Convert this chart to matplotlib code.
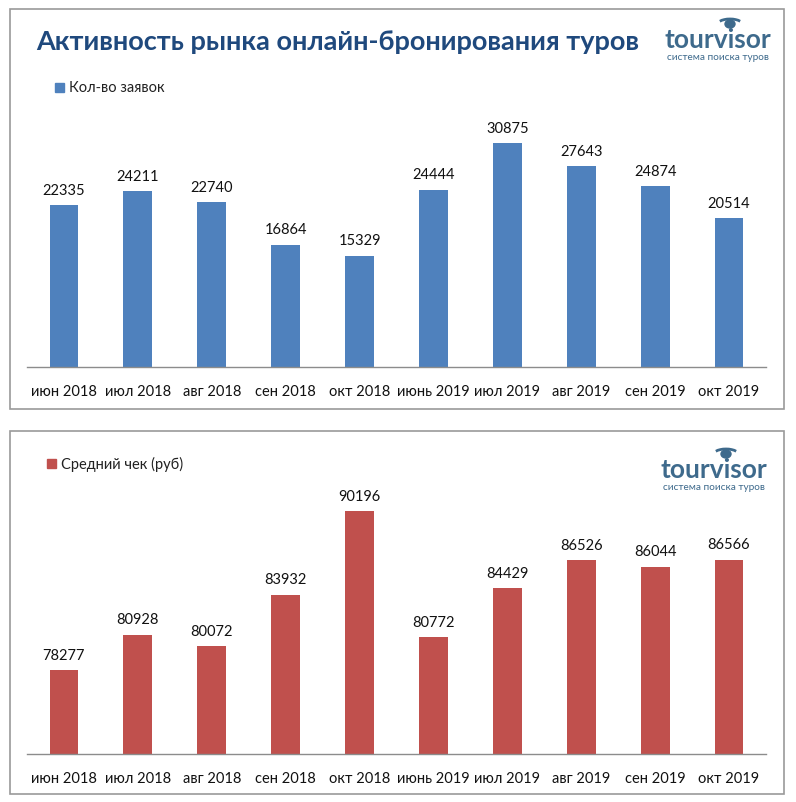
import matplotlib.pyplot as plt
from matplotlib.patches import Rectangle, Ellipse, Arc

months = ['июн 2018', 'июл 2018', 'авг 2018', 'сен 2018', 'окт 2018',
          'июнь 2019', 'июл 2019', 'авг 2019', 'сен 2019', 'окт 2019']
requests = [22335, 24211, 22740, 16864, 15329, 24444, 30875, 27643, 24874, 20514]
avg_check = [78277, 80928, 80072, 83932, 90196, 80772, 84429, 86526, 86044, 86566]

title = 'Активность рынка онлайн-бронирования туров'
legend_top = 'Кол-во заявок'
legend_bottom = 'Средний чек (руб)'

W, H = 796, 803
blue = '#4F81BD'
red = '#C0504D'
logo_col = '#3E6A8C'
plt.rcParams['font.family'] = ['Lato', 'DejaVu Sans']

fig = plt.figure(figsize=(W / 100, H / 100), dpi=100)
fig.patch.set_facecolor('white')


def px(x, y):
    # pixel coords (from top-left) -> figure fraction
    return x / W, 1 - y / H


def panel(x0, y0, x1, y1):
    fx, fy = px(x0, y1)
    fig.patches.append(Rectangle((fx, fy), (x1 - x0) / W, (y1 - y0) / H,
                                 transform=fig.transFigure, fill=False,
                                 edgecolor='#9A9A9A', linewidth=1.2))


def logo(cx, cy):
    x, y = px(cx, cy)
    fig.text(x, y, 'tourvisor', fontsize=19, fontweight='bold', color=logo_col,
             ha='center', va='center')
    x2, y2 = px(cx, cy + 18)
    fig.text(x2, y2, 'система поиска туров', fontsize=7.2, color=logo_col,
             ha='center', va='center')
    ex, ey = px(cx + 12, cy - 15)
    fig.patches.append(Ellipse((ex, ey), 10 / W, 8 / H, transform=fig.transFigure,
                               color=logo_col))
    fig.patches.append(Arc((ex, ey - 1 / H), 26 / W, 12 / H, theta1=20, theta2=160,
                           transform=fig.transFigure, color=logo_col, linewidth=2))


def legend(x, y, text, color):
    sx, sy = px(x, y)
    fig.patches.append(Rectangle((sx, sy - 5 / H), 9 / W, 9 / H,
                                 transform=fig.transFigure, color=color))
    tx, ty = px(x + 14, y)
    fig.text(tx, ty, text, fontsize=10.5, color='#222222', va='center', ha='left')


def bars(ax, values, color, ymin, ymax):
    xs = range(len(values))
    ax.bar(xs, values, width=0.39, color=color, zorder=2)
    for i, v in zip(xs, values):
        ax.annotate(str(v), (i, v), xytext=(0, 6), textcoords='offset points',
                    ha='center', va='bottom', fontsize=10.5, color='#111111')
    ax.set_xlim(-0.5, len(values) - 0.5)
    ax.set_ylim(ymin, ymax)
    ax.set_xticks(list(xs))
    ax.set_xticklabels(months, fontsize=10.5, color='#111111')
    ax.tick_params(axis='x', length=0, pad=12)
    ax.set_yticks([])
    for s in ['top', 'right', 'left']:
        ax.spines[s].set_visible(False)
    ax.spines['bottom'].set_color('#8C8C8C')
    ax.spines['bottom'].set_linewidth(1)


panel(10, 10, 784, 410)
panel(10, 432, 784, 795)

# top chart
l, b = px(27, 368)
ax1 = fig.add_axes([l, b, 739 / W, 254 / H])
bars(ax1, requests, blue, 0, 35000)

# bottom chart
l, b = px(27, 755)
ax2 = fig.add_axes([l, b, 739 / W, 267 / H])
bars(ax2, avg_check, red, 72000, 92000)

tx, ty = px(338, 42)
fig.text(tx, ty, title, fontsize=19.5, fontweight='bold', color='#1F497D',
         ha='center', va='center')
logo(718, 40)
logo(714, 470)
legend(55, 88, legend_top, blue)
legend(47, 464, legend_bottom, red)

fig.savefig('out.png', dpi=100)
